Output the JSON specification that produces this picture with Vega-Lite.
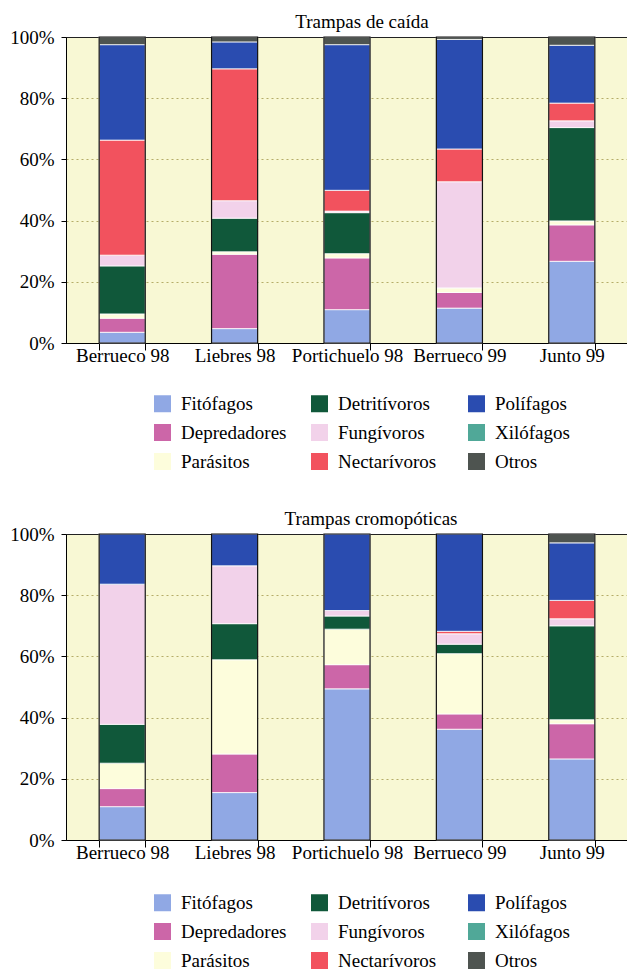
{
  "$schema": "https://vega.github.io/schema/vega-lite/v6.json",
  "padding": {"left": 9, "top": 12, "right": 0, "bottom": 0},
  "background": "white",
  "config": {
    "font": "Liberation Serif",
    "view": {"fill": "#f8f8d4", "stroke": "#222", "strokeWidth": 1},
    "axis": {"labelFont": "Liberation Serif", "labelFontSize": 19, "labelColor": "#000", "domainColor": "#000", "tickColor": "#000", "titleFont": "Liberation Serif"},
    "legend": {"labelFont": "Liberation Serif", "labelFontSize": 19, "labelColor": "#000"},
    "title": {"font": "Liberation Serif", "fontSize": 19, "fontWeight": "normal", "color": "#000"}
  },
  "datasets": {
    "caida": [
      {"sitio": "Berrueco 98", "grupo": "Fitófagos", "orden": 1, "valor": 3.5},
      {"sitio": "Berrueco 98", "grupo": "Depredadores", "orden": 2, "valor": 4.6},
      {"sitio": "Berrueco 98", "grupo": "Parásitos", "orden": 3, "valor": 1.4},
      {"sitio": "Berrueco 98", "grupo": "Detritívoros", "orden": 4, "valor": 15.7},
      {"sitio": "Berrueco 98", "grupo": "Fungívoros", "orden": 5, "valor": 3.5},
      {"sitio": "Berrueco 98", "grupo": "Nectarívoros", "orden": 6, "valor": 37.6},
      {"sitio": "Berrueco 98", "grupo": "Polífagos", "orden": 7, "valor": 31.2},
      {"sitio": "Berrueco 98", "grupo": "Otros", "orden": 9, "valor": 2.5},
      {"sitio": "Liebres 98", "grupo": "Fitófagos", "orden": 1, "valor": 4.7},
      {"sitio": "Liebres 98", "grupo": "Depredadores", "orden": 2, "valor": 24.3},
      {"sitio": "Liebres 98", "grupo": "Parásitos", "orden": 3, "valor": 0.8},
      {"sitio": "Liebres 98", "grupo": "Detritívoros", "orden": 4, "valor": 11.0},
      {"sitio": "Liebres 98", "grupo": "Fungívoros", "orden": 5, "valor": 5.7},
      {"sitio": "Liebres 98", "grupo": "Nectarívoros", "orden": 6, "valor": 43.1},
      {"sitio": "Liebres 98", "grupo": "Polífagos", "orden": 7, "valor": 8.8},
      {"sitio": "Liebres 98", "grupo": "Otros", "orden": 9, "valor": 1.6},
      {"sitio": "Portichuelo 98", "grupo": "Fitófagos", "orden": 1, "valor": 10.9},
      {"sitio": "Portichuelo 98", "grupo": "Depredadores", "orden": 2, "valor": 16.9},
      {"sitio": "Portichuelo 98", "grupo": "Parásitos", "orden": 3, "valor": 1.4},
      {"sitio": "Portichuelo 98", "grupo": "Detritívoros", "orden": 4, "valor": 13.4},
      {"sitio": "Portichuelo 98", "grupo": "Fungívoros", "orden": 5, "valor": 0.5},
      {"sitio": "Portichuelo 98", "grupo": "Nectarívoros", "orden": 6, "valor": 6.8},
      {"sitio": "Portichuelo 98", "grupo": "Polífagos", "orden": 7, "valor": 47.6},
      {"sitio": "Portichuelo 98", "grupo": "Otros", "orden": 9, "valor": 2.5},
      {"sitio": "Berrueco 99", "grupo": "Fitófagos", "orden": 1, "valor": 11.4},
      {"sitio": "Berrueco 99", "grupo": "Depredadores", "orden": 2, "valor": 5.1},
      {"sitio": "Berrueco 99", "grupo": "Parásitos", "orden": 3, "valor": 1.5},
      {"sitio": "Berrueco 99", "grupo": "Fungívoros", "orden": 5, "valor": 34.7},
      {"sitio": "Berrueco 99", "grupo": "Nectarívoros", "orden": 6, "valor": 10.7},
      {"sitio": "Berrueco 99", "grupo": "Polífagos", "orden": 7, "valor": 35.8},
      {"sitio": "Berrueco 99", "grupo": "Otros", "orden": 9, "valor": 0.8},
      {"sitio": "Junto 99", "grupo": "Fitófagos", "orden": 1, "valor": 26.7},
      {"sitio": "Junto 99", "grupo": "Depredadores", "orden": 2, "valor": 11.9},
      {"sitio": "Junto 99", "grupo": "Parásitos", "orden": 3, "valor": 1.3},
      {"sitio": "Junto 99", "grupo": "Detritívoros", "orden": 4, "valor": 30.5},
      {"sitio": "Junto 99", "grupo": "Fungívoros", "orden": 5, "valor": 2.2},
      {"sitio": "Junto 99", "grupo": "Nectarívoros", "orden": 6, "valor": 5.8},
      {"sitio": "Junto 99", "grupo": "Polífagos", "orden": 7, "valor": 18.9},
      {"sitio": "Junto 99", "grupo": "Otros", "orden": 9, "valor": 2.7}
    ],
    "cromo": [
      {"sitio": "Berrueco 98", "grupo": "Fitófagos", "orden": 1, "valor": 10.9},
      {"sitio": "Berrueco 98", "grupo": "Depredadores", "orden": 2, "valor": 5.9},
      {"sitio": "Berrueco 98", "grupo": "Parásitos", "orden": 3, "valor": 8.3},
      {"sitio": "Berrueco 98", "grupo": "Detritívoros", "orden": 4, "valor": 12.7},
      {"sitio": "Berrueco 98", "grupo": "Fungívoros", "orden": 5, "valor": 45.8},
      {"sitio": "Berrueco 98", "grupo": "Polífagos", "orden": 7, "valor": 16.4},
      {"sitio": "Liebres 98", "grupo": "Fitófagos", "orden": 1, "valor": 15.5},
      {"sitio": "Liebres 98", "grupo": "Depredadores", "orden": 2, "valor": 12.6},
      {"sitio": "Liebres 98", "grupo": "Parásitos", "orden": 3, "valor": 30.8},
      {"sitio": "Liebres 98", "grupo": "Detritívoros", "orden": 4, "valor": 11.8},
      {"sitio": "Liebres 98", "grupo": "Fungívoros", "orden": 5, "valor": 18.9},
      {"sitio": "Liebres 98", "grupo": "Polífagos", "orden": 7, "valor": 10.4},
      {"sitio": "Portichuelo 98", "grupo": "Fitófagos", "orden": 1, "valor": 49.4},
      {"sitio": "Portichuelo 98", "grupo": "Depredadores", "orden": 2, "valor": 7.9},
      {"sitio": "Portichuelo 98", "grupo": "Parásitos", "orden": 3, "valor": 11.6},
      {"sitio": "Portichuelo 98", "grupo": "Detritívoros", "orden": 4, "valor": 4.3},
      {"sitio": "Portichuelo 98", "grupo": "Fungívoros", "orden": 5, "valor": 1.8},
      {"sitio": "Portichuelo 98", "grupo": "Polífagos", "orden": 7, "valor": 25.0},
      {"sitio": "Berrueco 99", "grupo": "Fitófagos", "orden": 1, "valor": 36.2},
      {"sitio": "Berrueco 99", "grupo": "Depredadores", "orden": 2, "valor": 5.0},
      {"sitio": "Berrueco 99", "grupo": "Parásitos", "orden": 3, "valor": 19.7},
      {"sitio": "Berrueco 99", "grupo": "Detritívoros", "orden": 4, "valor": 3.1},
      {"sitio": "Berrueco 99", "grupo": "Fungívoros", "orden": 5, "valor": 3.4},
      {"sitio": "Berrueco 99", "grupo": "Nectarívoros", "orden": 6, "valor": 0.8},
      {"sitio": "Berrueco 99", "grupo": "Polífagos", "orden": 7, "valor": 31.8},
      {"sitio": "Junto 99", "grupo": "Fitófagos", "orden": 1, "valor": 26.5},
      {"sitio": "Junto 99", "grupo": "Depredadores", "orden": 2, "valor": 11.5},
      {"sitio": "Junto 99", "grupo": "Parásitos", "orden": 3, "valor": 1.3},
      {"sitio": "Junto 99", "grupo": "Detritívoros", "orden": 4, "valor": 30.7},
      {"sitio": "Junto 99", "grupo": "Fungívoros", "orden": 5, "valor": 2.3},
      {"sitio": "Junto 99", "grupo": "Nectarívoros", "orden": 6, "valor": 6.0},
      {"sitio": "Junto 99", "grupo": "Polífagos", "orden": 7, "valor": 18.8},
      {"sitio": "Junto 99", "grupo": "Otros", "orden": 9, "valor": 2.9}
    ]
  },
  "resolve": {"legend": {"color": "independent"}},
  "spacing": 36,
  "vconcat": [
    {
      "width": 562,
      "height": 306,
      "data": {"name": "caida"},
      "title": {"text": "Trampas de caída", "anchor": "middle", "frame": "group", "dx": 15, "offset": -4},
      "encoding": {
        "x": {"field": "sitio", "type": "nominal", "sort": ["Berrueco 98", "Liebres 98", "Portichuelo 98", "Berrueco 99", "Junto 99"],
          "scale": {"paddingInner": 0.59, "paddingOuter": 0.295},
          "axis": {"title": null, "labelAngle": 0, "tickBand": "extent", "tickSize": 7, "labelPadding": -4, "grid": false}}
      },
      "layer": [
        {
          "mark": {"type": "bar", "stroke": "white", "strokeWidth": 0.8},
          "encoding": {
            "y": {"field": "valor", "type": "quantitative", "stack": "zero", "scale": {"domain": [0, 100]},
              "axis": {"title": null, "values": [0, 20, 40, 60, 80, 100], "labelExpr": "datum.value + '%'", "tickSize": 5, "labelPadding": 7, "grid": true, "gridColor": "#b5ad68", "gridDash": [2, 3], "gridWidth": 1,
                "gridOpacity": {"condition": {"test": "datum.value === 100 || datum.value === 0", "value": 0}, "value": 1}}},
            "color": {"field": "grupo", "type": "nominal",
              "scale": {"domain": ["Fitófagos", "Depredadores", "Parásitos", "Detritívoros", "Fungívoros", "Nectarívoros", "Polífagos", "Xilófagos", "Otros"],
                "range": ["#90a8e4", "#cc66a8", "#fdfddc", "#10583a", "#f2d2ea", "#f2525e", "#2a4cb0", "#50a898", "#4e5450"]},
              "legend": {"title": null, "orient": "none", "direction": "vertical", "legendX": 87, "legendY": 357, "columns": 3, "columnPadding": 23, "rowPadding": 9, "gridAlign": "all", "symbolType": "square", "symbolSize": 289, "symbolStrokeWidth": 0, "labelOffset": 9, "padding": 0}},
            "order": {"field": "orden", "type": "quantitative", "sort": "ascending"}
          }
        },
        {
          "mark": {"type": "bar", "fillOpacity": 0, "stroke": "#111", "strokeWidth": 1.2},
          "encoding": {
            "y": {"aggregate": "sum", "field": "valor", "type": "quantitative"}
          }
        }
      ]
    },
    {
      "width": 562,
      "height": 306,
      "data": {"name": "cromo"},
      "title": {"text": "Trampas cromopóticas", "anchor": "middle", "frame": "group", "dx": 24, "offset": -4},
      "encoding": {
        "x": {"field": "sitio", "type": "nominal", "sort": ["Berrueco 98", "Liebres 98", "Portichuelo 98", "Berrueco 99", "Junto 99"],
          "scale": {"paddingInner": 0.59, "paddingOuter": 0.295},
          "axis": {"title": null, "labelAngle": 0, "tickBand": "extent", "tickSize": 7, "labelPadding": -4, "grid": false}}
      },
      "layer": [
        {
          "mark": {"type": "bar", "stroke": "white", "strokeWidth": 0.8},
          "encoding": {
            "y": {"field": "valor", "type": "quantitative", "stack": "zero", "scale": {"domain": [0, 100]},
              "axis": {"title": null, "values": [0, 20, 40, 60, 80, 100], "labelExpr": "datum.value + '%'", "tickSize": 5, "labelPadding": 7, "grid": true, "gridColor": "#b5ad68", "gridDash": [2, 3], "gridWidth": 1,
                "gridOpacity": {"condition": {"test": "datum.value === 100 || datum.value === 0", "value": 0}, "value": 1}}},
            "color": {"field": "grupo", "type": "nominal",
              "scale": {"domain": ["Fitófagos", "Depredadores", "Parásitos", "Detritívoros", "Fungívoros", "Nectarívoros", "Polífagos", "Xilófagos", "Otros"],
                "range": ["#90a8e4", "#cc66a8", "#fdfddc", "#10583a", "#f2d2ea", "#f2525e", "#2a4cb0", "#50a898", "#4e5450"]},
              "legend": {"title": null, "orient": "none", "direction": "vertical", "legendX": 87, "legendY": 359, "columns": 3, "columnPadding": 23, "rowPadding": 9, "gridAlign": "all", "symbolType": "square", "symbolSize": 289, "symbolStrokeWidth": 0, "labelOffset": 9, "padding": 0}},
            "order": {"field": "orden", "type": "quantitative", "sort": "ascending"}
          }
        },
        {
          "mark": {"type": "bar", "fillOpacity": 0, "stroke": "#111", "strokeWidth": 1.2},
          "encoding": {
            "y": {"aggregate": "sum", "field": "valor", "type": "quantitative"}
          }
        }
      ]
    }
  ]
}
